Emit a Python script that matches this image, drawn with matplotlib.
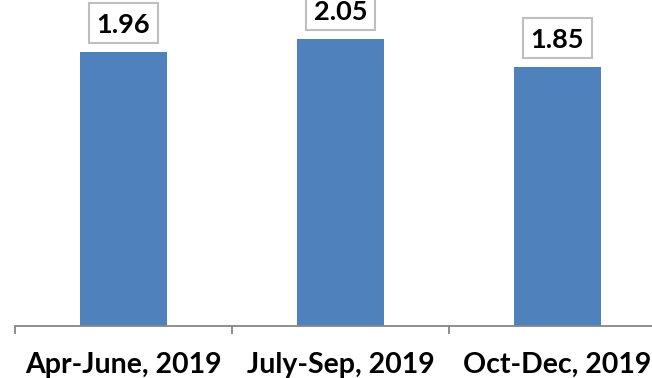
import matplotlib
matplotlib.use("Agg")
import matplotlib.pyplot as plt
import matplotlib.transforms as mtransforms
from matplotlib.patches import Rectangle

categories = ["Apr-June, 2019", "July-Sep, 2019", "Oct-Dec, 2019"]
values = [1.96, 2.05, 1.85]
value_labels = ["1.96", "2.05", "1.85"]

W, H = 652, 378
DPI = 100
fig = plt.figure(figsize=(W / DPI, H / DPI), dpi=DPI)
ax = fig.add_axes([15 / W, 52 / H, 651 / W, 326 / H])

bar_color = "#4F81BD"
x = range(len(categories))
bars = ax.bar(x, values, width=0.4, color=bar_color, zorder=2)

ax.set_xlim(-0.5, len(categories) - 0.5)
ax.set_ylim(0, 326 / 140)

for s in ["top", "right", "left"]:
    ax.spines[s].set_visible(False)
ax.spines["bottom"].set_color("#868686")
ax.spines["bottom"].set_linewidth(1.3)
ax.set_yticks([])

# category separators as ticks on the boundaries
ax.set_xticks([i - 0.5 for i in range(len(categories) + 1)])
ax.set_xticklabels([])
ax.tick_params(axis="x", length=6, width=1.3, color="#868686", direction="out")

px = 72 / DPI  # points per pixel

for i, cat in enumerate(categories):
    ax.annotate(cat, xy=(i, 0), xycoords="data", xytext=(0, -47 * px),
                textcoords="offset points", ha="center", va="baseline",
                fontsize=20.5, fontweight="bold", family="Lato",
                color="#000000", annotation_clip=False)

box_w, box_h = 69 / DPI, 40 / DPI  # inches
for rect, lab, v in zip(bars, value_labels, values):
    xc = rect.get_x() + rect.get_width() / 2
    tr = fig.dpi_scale_trans + mtransforms.ScaledTranslation(xc, v, ax.transData)
    ax.add_patch(Rectangle((-box_w / 2, 9 / DPI), box_w, box_h, transform=tr,
                           fc="white", ec="#BFBFBF", lw=1.5, clip_on=False,
                           zorder=3))
    ax.annotate(lab, xy=(xc, v), xycoords="data", xytext=(0, 19 * px),
                textcoords="offset points", ha="center", va="baseline",
                fontsize=19.5, fontweight="bold", family="Lato",
                color="#000000", annotation_clip=False, zorder=4)

fig.savefig("out.png", dpi=DPI)
